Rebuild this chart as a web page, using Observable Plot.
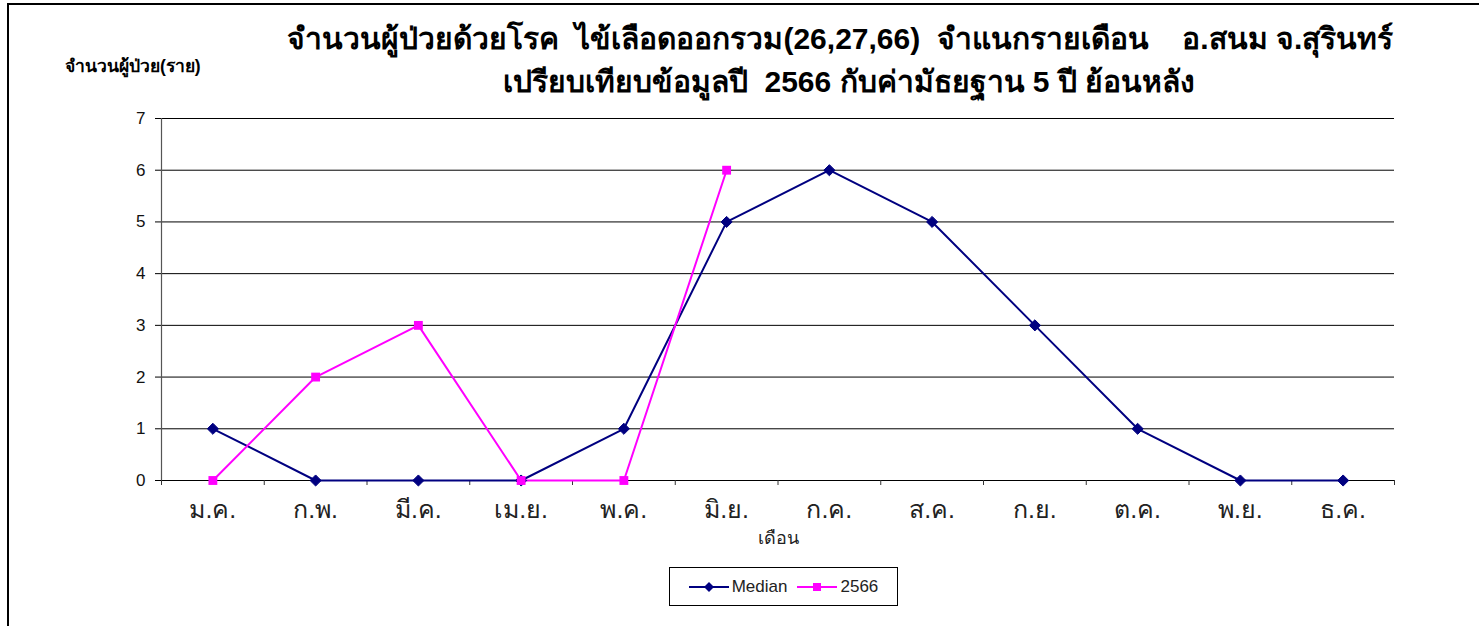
<!DOCTYPE html>
<html>
<head>
<meta charset="utf-8">
<script src="https://cdn.jsdelivr.net/npm/d3@7"></script>
<script src="https://cdn.jsdelivr.net/npm/@observablehq/plot@0.6"></script>
<style>
  html, body { margin: 0; padding: 0; background: #fff; }
  body { width: 1479px; height: 626px; position: relative; overflow: hidden; font-family: "Liberation Sans", Arial, sans-serif; }
  #frame { position: absolute; left: 7px; top: 3px; width: 1500px; height: 700px; border-top: 2px solid #000; border-left: 2px solid #000; box-sizing: border-box; }
  #header { position: absolute; left: 0; top: 0; width: 1479px; height: 100px; }
  .t1, .t2 { position: absolute; font-weight: bold; font-size: 30px; color: #000; white-space: pre; line-height: 1; }
  .t1 { left: 840px; top: 24px; transform: translateX(-50%); }
  .t2 { left: 849px; top: 67px; transform: translateX(-50%); }
  .ylab { position: absolute; left: 65px; top: 58px; font-weight: bold; font-size: 17.5px; color: #000; white-space: pre; line-height: 1; }
  #chart { position: absolute; left: 0; top: 100px; }
  #legend { position: absolute; left: 669px; top: 567px; width: 229px; height: 39px; border: 1px solid #000; box-sizing: border-box; display: flex; align-items: center; justify-content: center; gap: 10px; font-size: 17px; color: #222; }
  #legend .item { display: flex; align-items: center; gap: 3px; }
</style>
</head>
<body>
<div id="frame"></div>
<div id="header">
  <div class="t1">จำนวนผู้ป่วยด้วยโรค  ไข้เลือดออกรวม(26,27,66)  จำแนกรายเดือน    อ.สนม จ.สุรินทร์</div>
  <div class="t2">เปรียบเทียบข้อมูลปี  2566 กับค่ามัธยฐาน 5 ปี ย้อนหลัง</div>
  <div class="ylab">จำนวนผู้ป่วย(ราย)</div>
</div>
<div id="chart"></div>
<div id="legend"></div>
<script>
const months = ["ม.ค.", "ก.พ.", "มี.ค.", "เม.ย.", "พ.ค.", "มิ.ย.", "ก.ค.", "ส.ค.", "ก.ย.", "ต.ค.", "พ.ย.", "ธ.ค."];
const median = [1, 0, 0, 0, 1, 5, 6, 5, 3, 1, 0, 0];
const y2566 = [0, 2, 3, 0, 0, 6];
const yTicks = [0, 1, 2, 3, 4, 5, 6, 7];
const seriesNames = ["Median", "2566"];
const seriesColors = ["#000080", "#FF00FF"];

const medianData = median.map((v, i) => ({i: i + 0.5, v}));
const curData = y2566.map((v, i) => ({i: i + 0.5, v}));
const centers = months.map((m, i) => i + 0.5);
const bounds = d3.range(months.length + 1);

const chart = Plot.plot({
  width: 1479,
  height: 460,
  marginLeft: 161,
  marginRight: 85,
  marginTop: 18,
  marginBottom: 80,
  style: { fontFamily: "'Liberation Sans', Arial, sans-serif", background: "transparent" },
  x: { domain: [0, months.length], axis: null },
  y: { domain: [0, 7], axis: null },
  marks: [
    Plot.ruleY(yTicks, { stroke: "#000", strokeWidth: 1 }),
    Plot.axisY({ ticks: yTicks, tickSize: 6, tickPadding: 10, fontSize: 17, tickFormat: d3.format("d"), stroke: "#000", strokeOpacity: 1, color: "#111", label: null }),
    Plot.ruleX([0], { stroke: "#555", strokeWidth: 1.2 }),
    Plot.axisX({ ticks: bounds, tickSize: 5, tickFormat: () => "", stroke: "#333", strokeOpacity: 1, label: null }),
    Plot.axisX({ ticks: centers, tickSize: 0, tickPadding: 20, fontSize: 25, tickFormat: (d) => months[Math.floor(d)], color: "#222", label: null }),
    Plot.text(["เดือน"], { frameAnchor: "bottom", dy: 63, fontSize: 18, fill: "#222" }),
    Plot.line(medianData, { x: "i", y: "v", stroke: seriesColors[0], strokeWidth: 2 }),
    Plot.line(curData, { x: "i", y: "v", stroke: seriesColors[1], strokeWidth: 2 }),
    Plot.dot(medianData, { x: "i", y: "v", symbol: "diamond2", r: 5, fill: seriesColors[0], stroke: seriesColors[0], strokeWidth: 1 }),
    Plot.dot(curData, { x: "i", y: "v", symbol: "square", r: 5, fill: seriesColors[1], stroke: "none" })
  ]
});
document.getElementById("chart").appendChild(chart);

const legend = document.getElementById("legend");
seriesNames.forEach((name, k) => {
  const item = document.createElement("div");
  item.className = "item";
  const marker = k === 0
    ? `<polygon points="20,1 25,6 20,11 15,6" fill="${seriesColors[k]}"/>`
    : `<rect x="16" y="2" width="8" height="8" fill="${seriesColors[k]}"/>`;
  item.innerHTML = `<svg width="40" height="12"><line x1="0" y1="6" x2="40" y2="6" stroke="${seriesColors[k]}" stroke-width="2"/>${marker}</svg><span>${name}</span>`;
  legend.appendChild(item);
});
</script>
</body>
</html>
